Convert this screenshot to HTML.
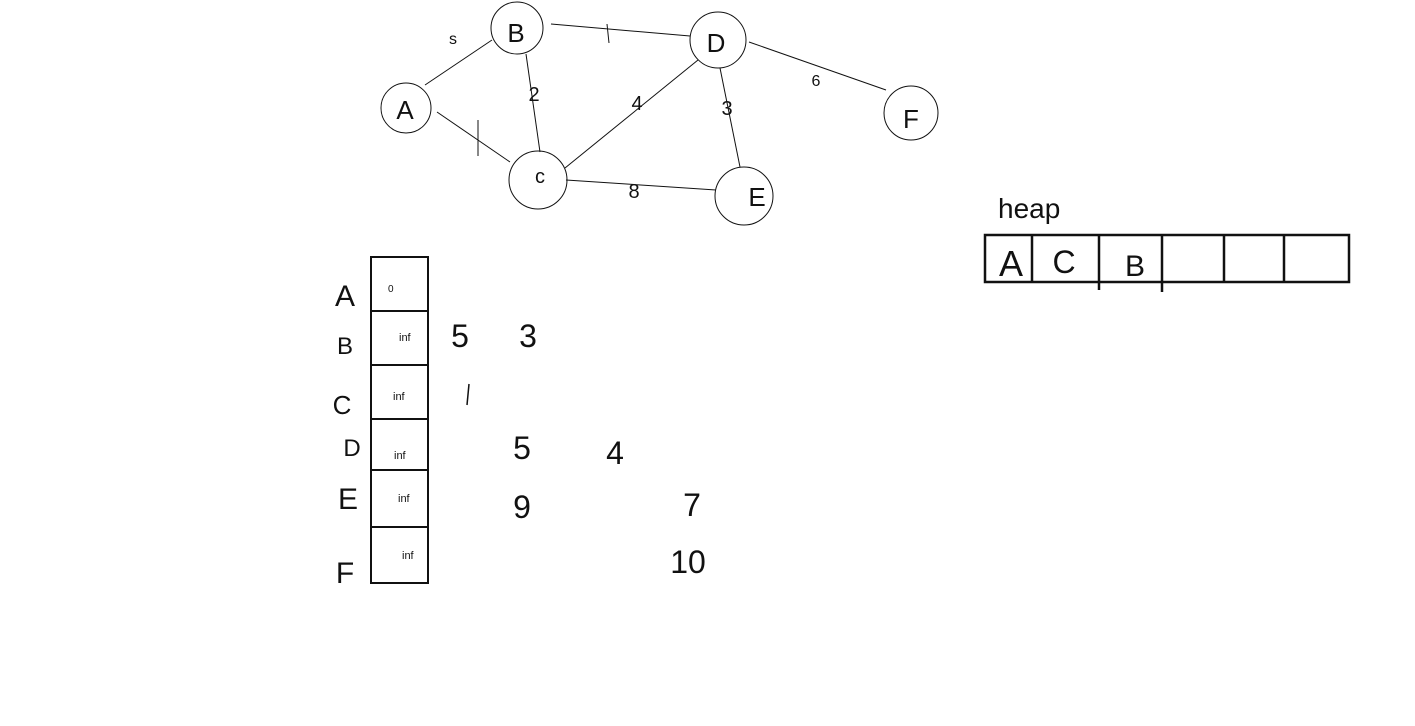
<!DOCTYPE html>
<html><head><meta charset="utf-8"><style>
html,body{margin:0;padding:0;background:#fff;}
svg{display:block;}
.h{font-family:"Liberation Sans",sans-serif;fill:#111;font-weight:normal;}
.s{font-family:"Liberation Sans",sans-serif;fill:#111;font-size:11px;}
line,circle,rect{stroke:#111;fill:none;}
</style></head><body>
<svg width="1415" height="726" viewBox="0 0 1415 726">
<g stroke-width="1">
<line x1="425" y1="85" x2="492" y2="40"/>
<line x1="437" y1="112" x2="510" y2="162"/>
<line x1="526" y1="54" x2="540" y2="152"/>
<line x1="551" y1="24" x2="690" y2="36"/>
<line x1="565" y1="168" x2="698" y2="60"/>
<line x1="720" y1="68" x2="740" y2="167"/>
<line x1="566" y1="180" x2="716" y2="190"/>
<line x1="749" y1="42" x2="886" y2="90"/>
</g>
<g stroke-width="1">
<circle cx="406" cy="108" r="25"/>
<circle cx="517" cy="28" r="26"/>
<circle cx="718" cy="40" r="28"/>
<circle cx="911" cy="113" r="27"/>
<circle cx="538" cy="180" r="29"/>
<circle cx="744" cy="196" r="29"/>
</g>
<g class="h" font-size="26" text-anchor="middle">
<text x="405" y="119">A</text>
<text x="516" y="42">B</text>
<text x="716" y="52">D</text>
<text x="911" y="128">F</text>
<text x="540" y="183" font-size="20">c</text>
<text x="757" y="206">E</text>
</g>
<g class="h" font-size="20" text-anchor="middle">
<text x="453" y="44" font-size="16">s</text>
<text x="534" y="101">2</text>
<line x1="607" y1="24" x2="609" y2="43"/>
<text x="637" y="110">4</text>
<text x="727" y="115">3</text>
<text x="816" y="86" font-size="16">6</text>
<line x1="478" y1="120" x2="478" y2="156"/>
<text x="634" y="198">8</text>
</g>
<g stroke-width="2">
<rect x="371" y="257" width="57" height="326"/>
<line x1="371" y1="311" x2="428" y2="311"/>
<line x1="371" y1="365" x2="428" y2="365"/>
<line x1="371" y1="419" x2="428" y2="419"/>
<line x1="371" y1="470" x2="428" y2="470"/>
<line x1="371" y1="527" x2="428" y2="527"/>
</g>
<g class="s">
<text x="388" y="292" font-size="10">0</text>
<text x="399" y="341">inf</text>
<text x="393" y="400">inf</text>
<text x="394" y="459">inf</text>
<text x="398" y="502">inf</text>
<text x="402" y="559">inf</text>
</g>
<g class="h" font-size="30" text-anchor="middle">
<text x="345" y="306">A</text>
<text x="345" y="354" font-size="24">B</text>
<text x="342" y="414" font-size="26">C</text>
<text x="352" y="456" font-size="24">D</text>
<text x="348" y="509">E</text>
<text x="345" y="583">F</text>
</g>
<g class="h" font-size="32" text-anchor="middle">
<text x="460" y="347">5</text>
<text x="528" y="347">3</text>
<line x1="469" y1="384" x2="467" y2="405" stroke-width="1.5"/>
<text x="522" y="459">5</text>
<text x="615" y="464">4</text>
<text x="522" y="518">9</text>
<text x="692" y="516">7</text>
<text x="688" y="573">10</text>
</g>
<text class="h" x="998" y="218" font-size="28">heap</text>
<g stroke-width="2.5">
<rect x="985" y="235" width="364" height="47"/>
<line x1="1032" y1="235" x2="1032" y2="282"/>
<line x1="1099" y1="235" x2="1099" y2="290"/>
<line x1="1162" y1="235" x2="1162" y2="292"/>
<line x1="1224" y1="235" x2="1224" y2="282"/>
<line x1="1284" y1="235" x2="1284" y2="282"/>
</g>
<g class="h" font-size="36" text-anchor="middle">
<text x="1011" y="276">A</text>
<text x="1064" y="273" font-size="32">C</text>
<text x="1135" y="276" font-size="30">B</text>
</g>
</svg>
</body></html>
